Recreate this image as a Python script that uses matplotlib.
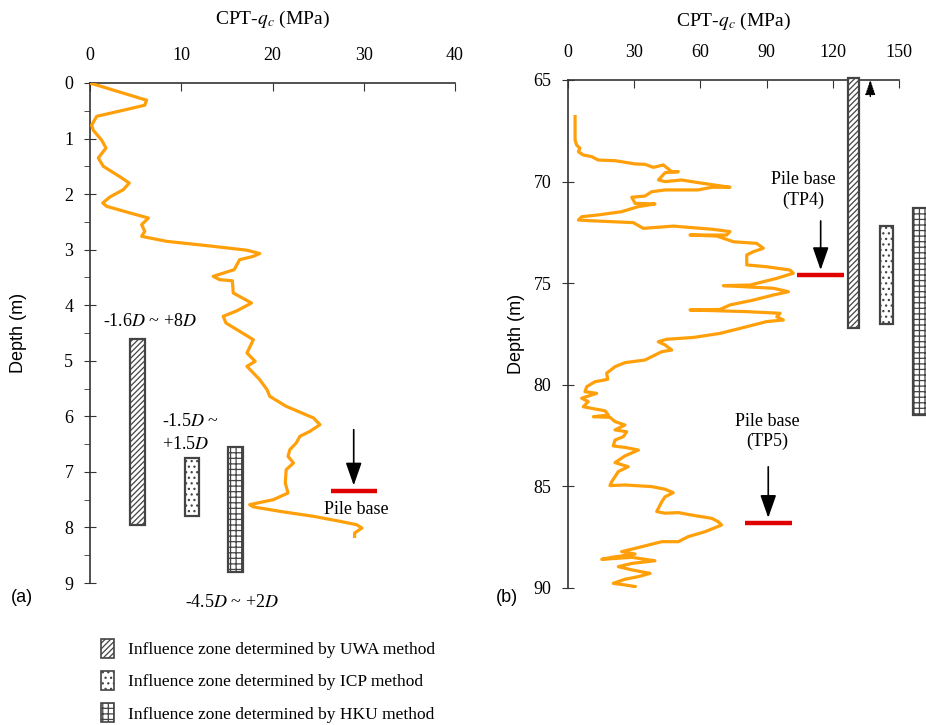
import matplotlib
matplotlib.use("Agg")
import matplotlib.pyplot as plt
from matplotlib.patches import Rectangle, Patch
from matplotlib.ticker import MultipleLocator

plt.rcParams['font.family'] = ['Liberation Serif', 'DejaVu Serif']
plt.rcParams['mathtext.fontset'] = 'stix'
plt.rcParams['hatch.linewidth'] = 0.9

# === CPT profile, site (a) ===
depth_a = [0.0, 0.31, 0.40, 0.49, 0.60, 0.76, 0.85, 1.03, 1.17, 1.35, 1.50, 1.69, 1.80,
           1.92, 2.05, 2.16, 2.22, 2.34, 2.43, 2.55, 2.67, 2.76, 2.85, 2.94, 3.01, 3.07,
           3.12, 3.18, 3.36, 3.48, 3.54, 3.56, 3.78, 3.96, 4.10, 4.20, 4.32, 4.62, 4.86,
           5.01, 5.10, 5.34, 5.52, 5.64, 5.82, 6.03, 6.15, 6.27, 6.36, 6.48, 6.60, 6.72,
           6.84, 6.96, 7.20, 7.38, 7.50, 7.59, 7.63, 7.71, 7.80, 7.89, 7.95, 8.01, 8.10, 8.16]
qc_a = [0.0, 6.2, 6.0, 3.65, 0.73, 0.18, 0.36, 1.28, 1.75, 0.91, 1.46, 3.3, 4.3,
        3.65, 2.2, 1.39, 1.83, 4.4, 6.4, 5.66, 6.0, 5.66, 8.4, 13.5, 17.2, 18.6,
        17.9, 16.4, 15.8, 13.5, 14.2, 15.6, 15.7, 17.7, 16.1, 14.6, 14.9, 17.9, 17.2,
        18.1, 17.2, 18.6, 19.4, 19.7, 21.5, 24.5, 25.2, 24.1, 23.0, 22.6, 21.9, 21.7,
        22.3, 21.5, 21.4, 21.7, 20.1, 17.5, 17.9, 20.8, 24.5, 27.4, 29.2, 29.8, 29.0, 29.0]

# === CPT profile, site (b) ===
depth_b = [66.8, 67.95, 68.2, 68.36, 68.53, 68.69, 68.77, 68.94, 68.97, 69.13, 69.15, 69.30,
           69.18, 69.51, 69.51, 69.56, 69.92, 70.0, 69.92, 70.05, 70.17, 70.28, 70.28, 70.41,
           70.41, 70.5, 70.71, 70.77, 71.07, 71.10, 71.23, 71.48, 71.64, 71.73, 71.89, 71.92,
           72.02, 72.30, 72.19, 72.35, 72.46, 72.63, 72.63, 72.68, 72.87, 72.96, 73.04, 73.28,
           73.45, 73.61, 74.1, 74.19, 74.35, 74.51, 74.76, 75.09, 75.12, 75.25, 75.42, 75.58,
           75.83, 76.07, 76.29, 76.32, 76.35, 76.40, 76.48, 76.65, 76.81, 76.89, 77.14, 77.47,
           77.67, 77.76, 77.88, 78.04, 78.29, 78.37, 78.62, 78.78, 78.91, 79.11, 79.43, 79.73,
           79.85, 80.09, 80.34, 80.42, 80.66, 80.83, 81.08, 81.16, 81.28, 81.49, 81.57, 81.60,
           81.81, 81.98, 82.22, 82.31, 82.55, 82.72, 83.01, 83.08, 83.21, 83.50, 83.83, 84.03,
           84.27, 84.52, 84.77, 84.96, 84.93, 85.01, 85.14, 85.31, 85.51, 85.75, 86.24, 86.32,
           86.29, 86.41, 86.57, 86.74, 86.90, 87.23, 87.47, 87.72, 87.72, 87.93, 88.05, 88.21,
           88.33, 88.49, 88.59, 88.49, 88.66, 88.79, 88.95, 89.11, 89.28, 89.44, 89.57, 89.77,
           89.85, 89.93]
qc_b = [3.2, 3.2, 3.9, 5.4, 4.7, 6.9, 10.7, 13.7, 21.3, 30.4, 34.9, 38.7,
        43.2, 47.0, 50.0, 44.0, 41.0, 44.0, 51.5, 59.0, 66.6, 73.4, 65.1, 59.0,
        44.0, 37.9, 34.9, 28.9, 30.4, 39.4, 31.9, 24.3, 13.7, 6.2, 4.7, 9.2,
        29.6, 34.1, 47.7, 65.8, 73.4, 71.9, 55.3, 67.4, 72.6, 74.9, 85.5, 88.5,
        84.0, 81.0, 81.0, 90.0, 100.6, 102.1, 94.6, 82.5, 70.4, 93.1, 99.9, 93.1,
        84.0, 73.4, 68.9, 55.3, 65.8, 81.0, 96.1, 94.6, 97.6, 90.0, 81.0, 68.9,
        56.8, 44.7, 40.9, 44.0, 47.0, 42.5, 37.9, 34.9, 25.8, 21.3, 17.5, 18.0,
        12.2, 8.5, 7.7, 13.0, 6.2, 9.2, 6.9, 10.7, 16.8, 18.3, 11.5, 19.0,
        21.3, 25.8, 21.3, 26.6, 25.1, 21.3, 20.5, 25.8, 31.9, 25.8, 21.3, 27.3,
        22.8, 21.3, 19.8, 19.0, 25.8, 37.9, 44.0, 47.7, 44.0, 42.5, 40.2, 44.0,
        50.0, 56.0, 65.1, 68.1, 69.6, 62.1, 54.5, 50.0, 42.5, 34.9, 30.4, 24.3,
        30.4, 19.8, 15.3, 28.9, 39.4, 28.9, 22.8, 28.9, 37.2, 31.9, 25.8, 20.5,
        25.8, 30.4]

# influence zones: (x_left, x_right, depth_top, depth_bottom)
zones_a = {"UWA": (4.4, 6.0, 4.6, 7.95), "ICP": (10.4, 11.9, 6.75, 7.8), "HKU": (15.1, 16.8, 6.55, 8.8)}
zones_b = {"UWA": (127.0, 132.0, 64.9, 77.2), "ICP": (141.5, 147.5, 72.2, 77.0), "HKU": (156.5, 163.0, 71.3, 81.5)}
hatches = {"UWA": "//////", "ICP": "...", "HKU": "+++"}

# pile base (x_left, x_right, depth)
pile_a = (26.4, 31.4, 7.34)
pile_tp4 = (104.0, 125.0, 74.6)
pile_tp5 = (80.0, 101.5, 86.8)

ORANGE = "#FFA00A"
RED = "#E00000"
EDGE = "#444444"

fig = plt.figure(figsize=(9.26, 7.25), dpi=100)
W, H = 926, 725
ax_a = fig.add_axes([90 / W, 1 - 583 / H, 365 / W, 500 / H])
ax_b = fig.add_axes([568 / W, 1 - 588 / H, 331 / W, 508 / H])


def style_axis(ax, xmax, xstep, ymin, ymax, ystep, ylabelpad, xlabelpad):
    ax.set_xlim(0, xmax)
    ax.set_ylim(ymax, ymin)
    ax.xaxis.set_ticks_position('top')
    ax.xaxis.set_label_position('top')
    ax.xaxis.set_major_locator(MultipleLocator(xstep))
    ax.yaxis.set_major_locator(MultipleLocator(ystep))
    for s in ['right', 'bottom']:
        ax.spines[s].set_visible(False)
    for s in ['top', 'left']:
        ax.spines[s].set_color("#333333")
        ax.spines[s].set_linewidth(1.2)
    ax.tick_params(axis='x', direction='in', length=6, labelsize=13, pad=14, color="#333333")
    ax.tick_params(axis='y', direction='inout', length=8, labelsize=13, pad=8, color="#333333")
    ax.set_xlabel(r"CPT-$q_c$ (MPa)", fontsize=14, labelpad=xlabelpad)
    ax.set_ylabel("Depth (m)", fontsize=13, family='Liberation Sans', labelpad=ylabelpad)


def draw_zones(ax, zones):
    for key, (x0, x1, d0, d1) in zones.items():
        ax.add_patch(Rectangle((x0, d0), x1 - x0, d1 - d0, facecolor='white', edgecolor=EDGE,
                               hatch=hatches[key], linewidth=1.6, clip_on=False, zorder=3))


def draw_pile(ax, pile, arrow_len):
    x0, x1, d = pile
    xm = (x0 + x1) / 2
    ax.plot([x0, x1], [d, d], color=RED, lw=3.2, solid_capstyle='butt', zorder=4)
    ax.annotate("", xy=(xm, d - 0.04 * arrow_len), xytext=(xm, d - arrow_len),
                arrowprops=dict(arrowstyle='-|>,head_width=0.35,head_length=1.0', color='black',
                                lw=1.2, mutation_scale=14), zorder=4)


# --- panel (a) ---
style_axis(ax_a, 40, 10, 0, 9, 1, 27, 16)
ax_a.yaxis.set_minor_locator(MultipleLocator(0.5))
ax_a.tick_params(axis='y', which='minor', direction='out', length=4, color="#333333")
ax_a.plot(qc_a, depth_a, color=ORANGE, lw=2.3, zorder=5, solid_joinstyle='round')
draw_zones(ax_a, zones_a)
draw_pile(ax_a, pile_a, 1.15)
ax_a.text(29.2, 7.67, "Pile base", ha='center', va='center', fontsize=13)
ax_a.text(1.4, 4.3, r"-1.6$\mathit{D}$ ~ +8$\mathit{D}$", ha='left', va='center', fontsize=13)
ax_a.text(7.9, 6.1, r"-1.5$\mathit{D}$ ~", ha='left', va='center', fontsize=13)
ax_a.text(7.9, 6.5, r"+1.5$\mathit{D}$", ha='left', va='center', fontsize=13)
ax_a.text(10.4, 9.35, r"-4.5$\mathit{D}$ ~ +2$\mathit{D}$", ha='left', va='center', fontsize=13,
          clip_on=False)

# --- panel (b) ---
style_axis(ax_b, 150, 30, 65, 90, 5, 6, 13)
ax_b.plot(qc_b, depth_b, color=ORANGE, lw=2.3, zorder=5, solid_joinstyle='round')
draw_zones(ax_b, zones_b)
draw_pile(ax_b, pile_tp4, 2.8)
ax_b.text(106.5, 70.4, "Pile base\n(TP4)", ha='center', va='center', fontsize=13, linespacing=1.25)
draw_pile(ax_b, pile_tp5, 2.9)
ax_b.text(90.5, 82.3, "Pile base\n(TP5)", ha='center', va='center', fontsize=13, linespacing=1.25)
# dotted arrow marking the UWA zone running above the plotted range
ax_b.annotate("", xy=(137.0, 64.85), xytext=(137.0, 65.95),
              arrowprops=dict(arrowstyle='-|>,head_width=0.3,head_length=0.9', color='black',
                              lw=1.0, linestyle=(0, (1, 1)), mutation_scale=10),
              annotation_clip=False)

fig.text(22 / W, 1 - 598 / H, "(a)", fontsize=13, family='Liberation Sans', ha='center', va='center')
fig.text(507 / W, 1 - 598 / H, "(b)", fontsize=13, family='Liberation Sans', ha='center', va='center')

# legend for influence zones
handles = [Patch(facecolor='white', edgecolor=EDGE, hatch=hatches[k], linewidth=1.2) for k in ["UWA", "ICP", "HKU"]]
labels = ["Influence zone determined by UWA method",
          "Influence zone determined by ICP method",
          "Influence zone determined by HKU method"]
fig.legend(handles, labels, loc='upper left', bbox_to_anchor=(92 / W, 1 - 630 / H), frameon=False,
           fontsize=12.5, handlelength=0.75, handleheight=1.3, handletextpad=0.85, labelspacing=0.75,
           borderpad=0)

fig.savefig("out.png", dpi=100)
